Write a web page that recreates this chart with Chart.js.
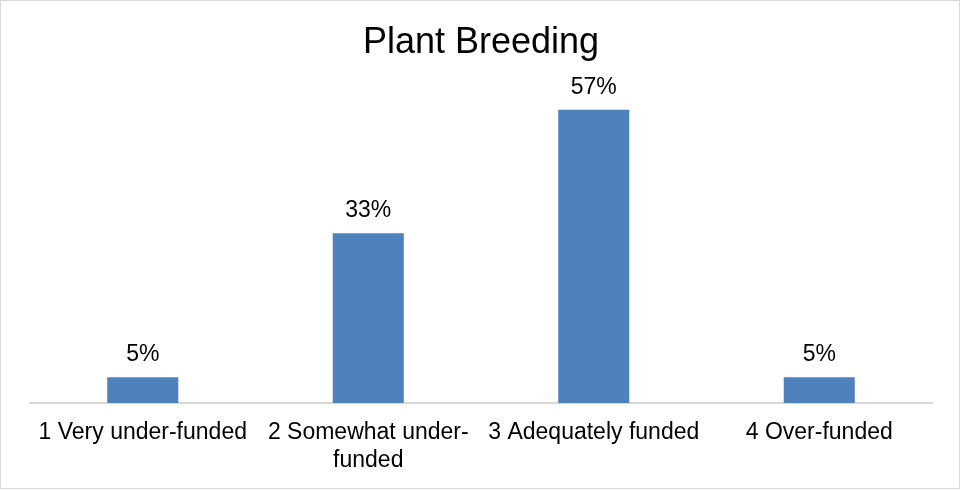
<!DOCTYPE html>
<html>
<head>
<meta charset="utf-8">
<title>Plant Breeding</title>
<script src="https://cdn.jsdelivr.net/npm/chart.js@4.4.0/dist/chart.umd.min.js"></script>
<style>
  html, body { margin: 0; padding: 0; background: #fff; }
  canvas { display: block; }
</style>
</head>
<body>
<canvas id="chart" width="961" height="490"></canvas>
<script>
// chart data
const categories = [
  '1 Very under-funded',
  ['2 Somewhat under-', 'funded'],
  '3 Adequately funded',
  '4 Over-funded'
];
const percents = [5, 33, 57, 5];
const chartTitle = 'Plant Breeding';

const FONT = '"Liberation Sans", Arial, sans-serif';

// white background + light frame like the office export
const frame = {
  id: 'frame',
  beforeDraw(chart) {
    const ctx = chart.ctx;
    ctx.save();
    ctx.fillStyle = '#fff';
    ctx.fillRect(0, 0, chart.width, chart.height);
    ctx.strokeStyle = '#d9d9d9';
    ctx.lineWidth = 1;
    ctx.strokeRect(0.5, 0.5, 959, 488);
    ctx.restore();
  }
};

// percentage labels above each bar
const valueLabels = {
  id: 'valueLabels',
  afterDatasetsDraw(chart) {
    const ctx = chart.ctx;
    const meta = chart.getDatasetMeta(0);
    ctx.save();
    ctx.font = '23px ' + FONT;
    ctx.fillStyle = '#000';
    ctx.textAlign = 'center';
    ctx.textBaseline = 'alphabetic';
    meta.data.forEach((bar, i) => {
      ctx.fillText(percents[i] + '%', bar.x, bar.y - 16);
    });
    ctx.restore();
  }
};

new Chart(document.getElementById('chart'), {
  type: 'bar',
  data: {
    labels: categories,
    datasets: [{
      data: percents,
      backgroundColor: '#4f81bd',
      borderWidth: 0,
      barPercentage: 1,
      categoryPercentage: 0.315
    }]
  },
  options: {
    responsive: false,
    animation: false,
    devicePixelRatio: 1,
    layout: {
      padding: { left: 30, right: 29, top: 0, bottom: 0 }
    },
    scales: {
      x: {
        grid: { display: false, drawTicks: false },
        border: { display: true, color: '#d9d9d9', width: 2 },
        ticks: {
          color: '#000',
          font: { family: FONT, size: 23, lineHeight: 1.22 },
          padding: 16,
          maxRotation: 0,
          autoSkip: false
        },
        afterFit(scale) {
          scale.height = 87;
        }
      },
      y: {
        display: false,
        min: 0,
        max: 60
      }
    },
    plugins: {
      legend: { display: false },
      tooltip: { enabled: false },
      title: {
        display: true,
        text: chartTitle,
        color: '#000',
        font: { family: FONT, size: 36, weight: 'normal', lineHeight: 1.2 },
        padding: { top: 21, bottom: 30 }
      }
    }
  },
  plugins: [frame, valueLabels]
});
</script>
</body>
</html>
